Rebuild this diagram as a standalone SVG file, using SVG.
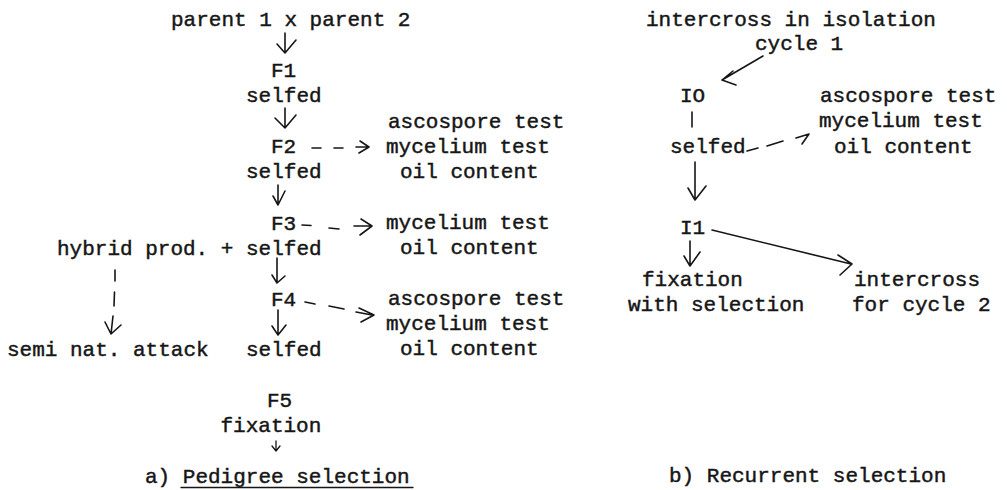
<svg xmlns="http://www.w3.org/2000/svg" width="1007" height="490" viewBox="0 0 1007 490">
  <style>
    .t { font-family: "Liberation Mono", "Courier New", monospace; font-size: 21px; fill: #161616; stroke: #161616; stroke-width: 0.45px; }
    .ln { fill: none; stroke: #161616; stroke-width: 1.6; stroke-linecap: round; stroke-linejoin: round; }
    .thin { fill: none; stroke: #161616; stroke-width: 1.3; stroke-linecap: round; stroke-linejoin: round; }
  </style>
  <rect width="1007" height="490" fill="#ffffff"/>

  <!-- a) Pedigree selection -->
  <g id="parents"><text class="t" x="171" y="26">parent 1 x parent 2</text></g>
  <g id="f1"><text class="t" x="271" y="77">F1</text></g>
  <g id="selfed1"><text class="t" x="246" y="102">selfed</text></g>
  <g id="f2"><text class="t" x="271" y="153">F2</text></g>
  <g id="tests-f2">
    <text class="t" x="388" y="128">ascospore test</text>
    <text class="t" x="386" y="153">mycelium test</text>
    <text class="t" x="400" y="178">oil content</text>
  </g>
  <g id="selfed2"><text class="t" x="246" y="178">selfed</text></g>
  <g id="f3"><text class="t" x="271" y="229.5">F3</text></g>
  <g id="tests-f3">
    <text class="t" x="386" y="229">mycelium test</text>
    <text class="t" x="400" y="254">oil content</text>
  </g>
  <g id="hybrid"><text class="t" x="57" y="255">hybrid prod. +</text></g>
  <g id="selfed3"><text class="t" x="246" y="255">selfed</text></g>
  <g id="f4"><text class="t" x="271" y="305.5">F4</text></g>
  <g id="tests-f4">
    <text class="t" x="388" y="305">ascospore test</text>
    <text class="t" x="386" y="330">mycelium test</text>
    <text class="t" x="400" y="355">oil content</text>
  </g>
  <g id="semi"><text class="t" x="7" y="356">semi nat. attack</text></g>
  <g id="selfed4"><text class="t" x="246" y="356">selfed</text></g>
  <g id="f5"><text class="t" x="267" y="407">F5</text></g>
  <g id="fixation-a"><text class="t" x="220.5" y="432">fixation</text></g>
  <g id="caption-a">
    <text class="t" x="145" y="483">a) Pedigree selection</text>
    <line class="thin" x1="181" y1="487.5" x2="413" y2="487.5"/>
  </g>

  <!-- b) Recurrent selection -->
  <g id="intercross-isolation">
    <text class="t" x="646" y="26">intercross in isolation</text>
    <text class="t" x="755" y="50">cycle 1</text>
  </g>
  <g id="i0"><text class="t" x="680" y="102">IO</text></g>
  <g id="tests-b">
    <text class="t" x="820" y="102">ascospore test</text>
    <text class="t" x="819" y="127">mycelium test</text>
    <text class="t" x="834" y="153">oil content</text>
  </g>
  <g id="selfed-b"><text class="t" x="670" y="153">selfed</text></g>
  <g id="i1"><text class="t" x="680" y="234">I1</text></g>
  <g id="fixation-b">
    <text class="t" x="642" y="286">fixation</text>
    <text class="t" x="628" y="311">with selection</text>
  </g>
  <g id="intercross-next">
    <text class="t" x="854" y="286">intercross</text>
    <text class="t" x="852" y="311">for cycle 2</text>
  </g>
  <g id="caption-b"><text class="t" x="669" y="482">b) Recurrent selection</text></g>

  <g id="connectors">
    <!-- pedigree chain -->
    <path class="ln" d="M285 33 V53 M277 44 L285 53 L296 40"/>
    <path class="ln" d="M285 108 V128 M275 118 L285 128 L296 115"/>
    <path class="ln" d="M278 185 V205 M273 196 L278 205 L285 191"/>
    <path class="ln" d="M277 258 V283 M272 275 L277 283 L285 276"/>
    <path class="ln" d="M278 310 V335 M272 326 L278 335 L286 325"/>
    <path class="thin" d="M276 441 V451 M272 446 L276 451 L280 446"/>
    <!-- dashed test arrows -->
    <path class="ln" d="M312 148 H321 M334 148 H343 M356 147 H367 M360 141 L369 147 L359 153"/>
    <path class="ln" d="M302 225 L311 225.5 M329 228 L339 229 M354 226 H370 M361 219 L372 226 L360 235"/>
    <path class="ln" d="M305 302 L315 304 M329 306 L344 309 M356 312 L372 315 M359 308 L374 315 L361 322"/>
    <!-- hybrid production branch -->
    <path class="ln" d="M115 270 V281 M114.5 292 L114 306 M113 316 L111 334 M105 322 L111 334 L121 325"/>
    <!-- recurrent cycle -->
    <path class="ln" d="M763 56 L722 80 M733 71 L722 80 L736 85"/>
    <path class="ln" d="M692 112 V127"/>
    <path class="ln" d="M747 151 L758 148 M767 146 L783 141 M796 138 L809 134 L802 144"/>
    <path class="ln" d="M695 162 V200 M688 188 L695 200 L706 186"/>
    <path class="ln" d="M690 241 V266 M684 256 L690 266 L700 252"/>
    <path class="ln" d="M712 230 L851 264 M838 255 L852 264 L840 275"/>
  </g>
</svg>
